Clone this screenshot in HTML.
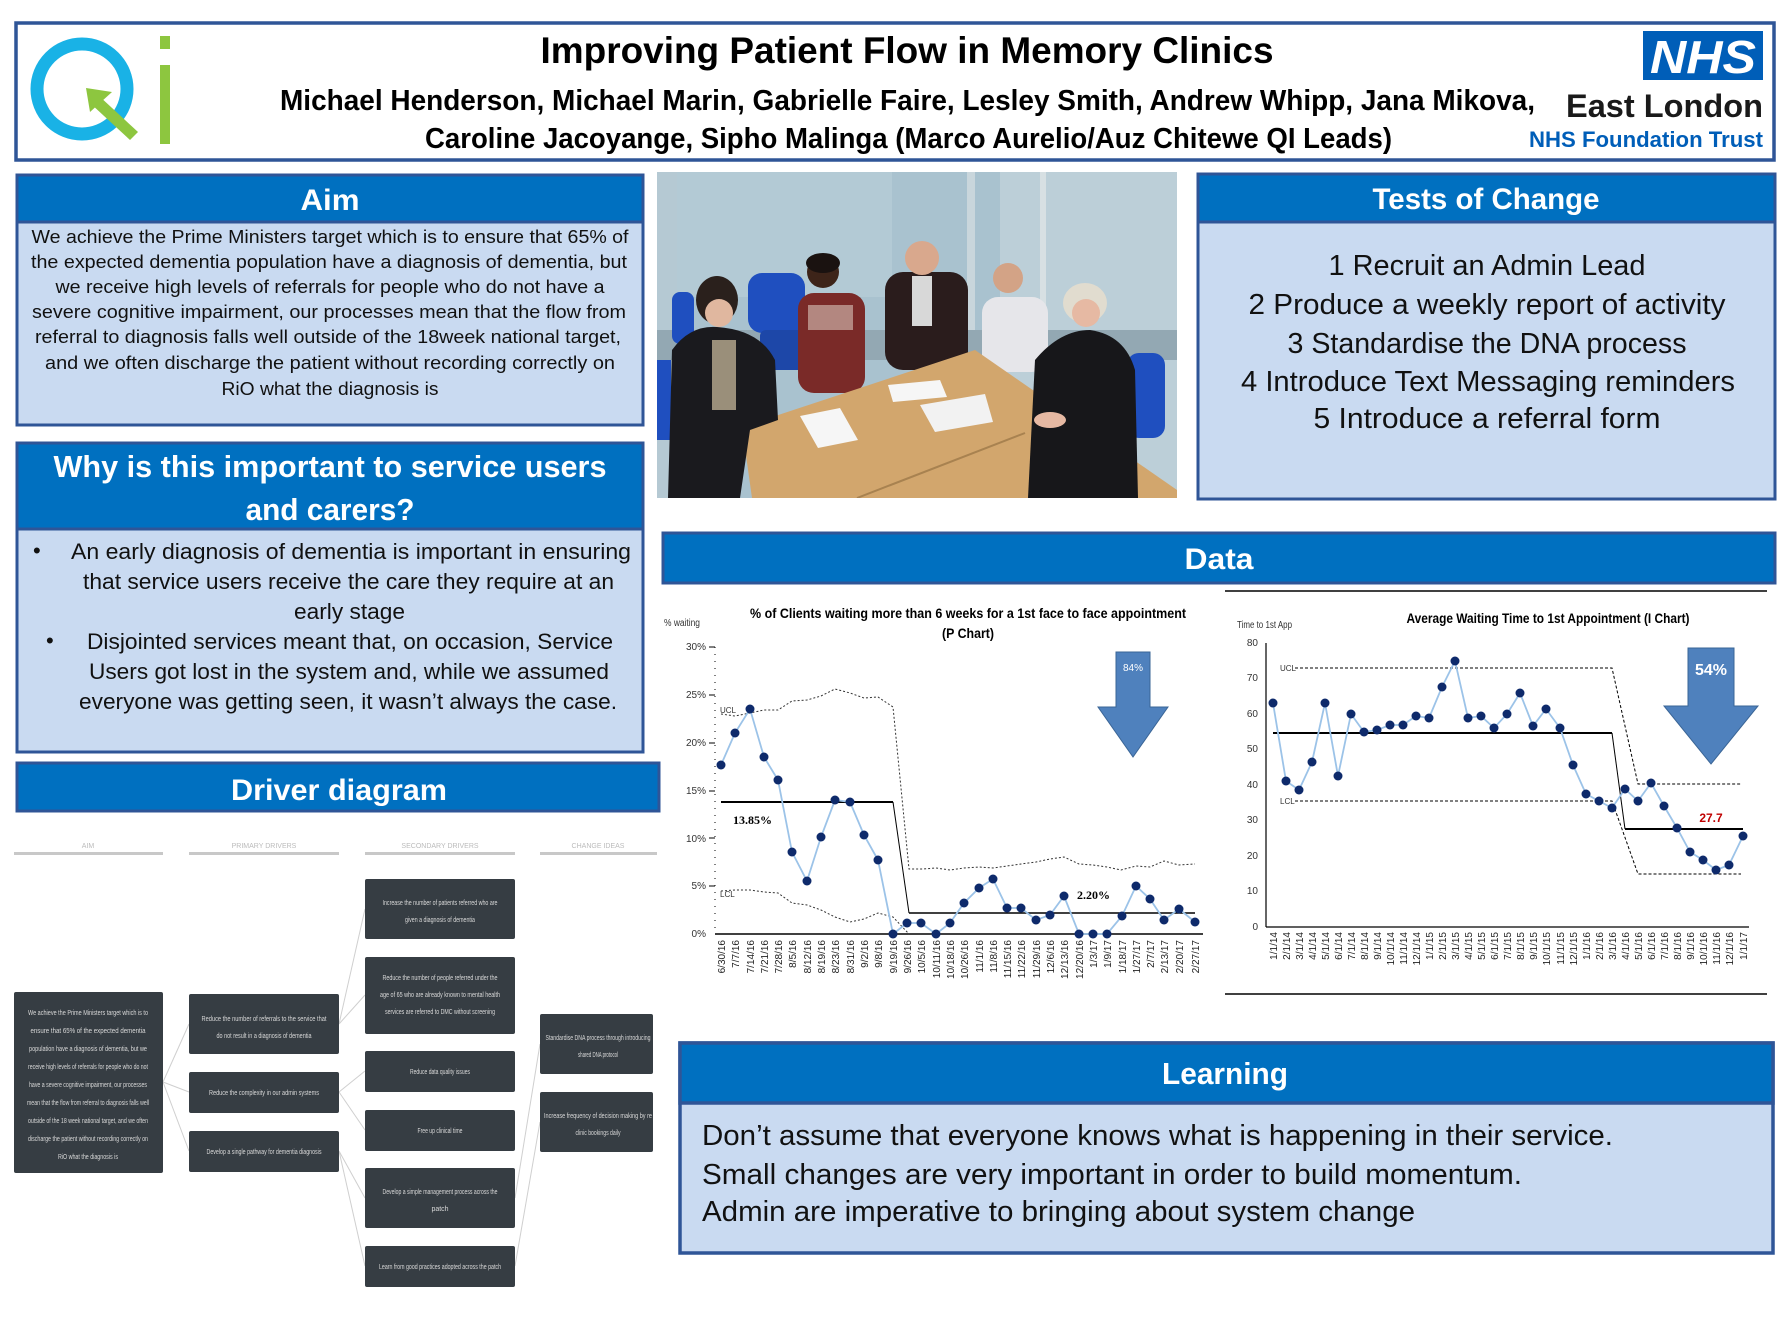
<!DOCTYPE html>
<html><head><meta charset="utf-8"><style>
html,body{margin:0;padding:0;background:#fff;}
svg{display:block;font-family:"Liberation Sans",sans-serif;}
</style></head><body>
<svg width="1792" height="1344" viewBox="0 0 1792 1344" xmlns="http://www.w3.org/2000/svg">
<rect width="1792" height="1344" fill="#fff"/>

<!-- HEADER -->
<rect x="16" y="23" width="1758" height="137" fill="#fff" stroke="#2f5597" stroke-width="3.5"/>
<!-- QI logo -->
<circle cx="82" cy="89" r="45" fill="none" stroke="#19b2e6" stroke-width="13"/>
<polygon points="98,95 138,132 130,140 90,103" fill="#8dc63f"/>
<polygon points="86,88 112,92 90,112" fill="#8dc63f"/>
<rect x="160" y="65" width="10" height="79" fill="#8dc63f"/>
<rect x="160" y="36" width="10" height="13" fill="#8dc63f"/>
<text x="907" y="63" font-size="37" font-weight="bold" text-anchor="middle" textLength="733" lengthAdjust="spacingAndGlyphs" fill="#000">Improving Patient Flow in Memory Clinics</text>
<text x="280" y="110" font-size="29" font-weight="bold" textLength="1255" lengthAdjust="spacingAndGlyphs" fill="#000">Michael Henderson, Michael Marin, Gabrielle Faire, Lesley Smith, Andrew Whipp, Jana Mikova,</text>
<text x="425" y="148" font-size="29" font-weight="bold" textLength="967" lengthAdjust="spacingAndGlyphs" fill="#000">Caroline Jacoyange, Sipho Malinga (Marco Aurelio/Auz Chitewe QI Leads)</text>
<rect x="1643" y="31" width="120" height="49" fill="#005eb8"/>
<text x="1703" y="73" font-size="46" font-weight="bold" font-style="italic" text-anchor="middle" textLength="106" lengthAdjust="spacingAndGlyphs" fill="#fff">NHS</text>
<text x="1566" y="117" font-size="32" font-weight="bold" textLength="197" lengthAdjust="spacingAndGlyphs" fill="#1a1a1a">East London</text>
<text x="1529" y="147" font-size="22" font-weight="bold" textLength="234" lengthAdjust="spacingAndGlyphs" fill="#005eb8">NHS Foundation Trust</text>

<!-- AIM -->
<rect x="17" y="175" width="626" height="250" fill="#c9daf1" stroke="#2f5597" stroke-width="3"/>
<rect x="17" y="175" width="626" height="47" fill="#0070c0" stroke="#2f5597" stroke-width="3"/>
<text x="330" y="210" font-size="30" font-weight="bold" text-anchor="middle" textLength="59" lengthAdjust="spacingAndGlyphs" fill="#fff">Aim</text>
<g font-size="18" fill="#111" text-anchor="middle">
<text x="330" y="243" textLength="597" lengthAdjust="spacingAndGlyphs">We achieve the Prime Ministers target which is to ensure that 65% of</text>
<text x="329" y="268" textLength="596" lengthAdjust="spacingAndGlyphs">the expected dementia population have a diagnosis of dementia, but</text>
<text x="330" y="293" textLength="549" lengthAdjust="spacingAndGlyphs">we receive high levels of referrals for people who do not have a</text>
<text x="329" y="318" textLength="594" lengthAdjust="spacingAndGlyphs">severe cognitive impairment, our processes mean that the flow from</text>
<text x="328" y="343" textLength="586" lengthAdjust="spacingAndGlyphs">referral to diagnosis falls well outside of the 18week national target,</text>
<text x="330" y="369" textLength="570" lengthAdjust="spacingAndGlyphs">and we often discharge the patient without recording correctly on</text>
<text x="330" y="395" textLength="217" lengthAdjust="spacingAndGlyphs">RiO what the diagnosis is</text>
</g>

<!-- WHY -->
<rect x="17" y="443" width="626" height="309" fill="#c9daf1" stroke="#2f5597" stroke-width="3"/>
<rect x="17" y="443" width="626" height="86" fill="#0070c0" stroke="#2f5597" stroke-width="3"/>
<text x="330" y="477" font-size="31" font-weight="bold" text-anchor="middle" textLength="553" lengthAdjust="spacingAndGlyphs" fill="#fff">Why is this important to service users</text>
<text x="330" y="520" font-size="31" font-weight="bold" text-anchor="middle" textLength="169" lengthAdjust="spacingAndGlyphs" fill="#fff">and carers?</text>
<g font-size="22" fill="#111">
<text x="33" y="558">•</text>
<text x="71" y="559" textLength="560" lengthAdjust="spacingAndGlyphs">An early diagnosis of dementia is important in ensuring</text>
<text x="83" y="589" textLength="531" lengthAdjust="spacingAndGlyphs">that service users receive the care they require at an</text>
<text x="294" y="619" textLength="111" lengthAdjust="spacingAndGlyphs">early stage</text>
<text x="46" y="648">•</text>
<text x="87" y="649" textLength="526" lengthAdjust="spacingAndGlyphs">Disjointed services meant that, on occasion, Service</text>
<text x="89" y="679" textLength="520" lengthAdjust="spacingAndGlyphs">Users got lost in the system and, while we assumed</text>
<text x="79" y="709" textLength="538" lengthAdjust="spacingAndGlyphs">everyone was getting seen, it wasn’t always the case.</text>
</g>

<!-- PHOTO -->
<svg x="657" y="172" width="520" height="326" viewBox="657 172 520 326">
<rect x="657" y="172" width="520" height="326" fill="#a9c2cf"/>
<rect x="657" y="172" width="20" height="326" fill="#b5c9d3"/>
<rect x="1000" y="172" width="177" height="326" fill="#bccfd8"/>
<rect x="967" y="172" width="8" height="200" fill="#c9d6dc"/>
<rect x="1040" y="172" width="6" height="150" fill="#d7e0e3"/>
<rect x="677" y="172" width="215" height="125" fill="#b3cad5"/>
<rect x="657" y="330" width="520" height="30" fill="#93a8b3"/>
<!-- chairs -->
<rect x="672" y="292" width="22" height="52" rx="8" fill="#1f4fbf"/>
<rect x="748" y="273" width="57" height="60" rx="14" fill="#1f4fbf"/>
<rect x="760" y="330" width="45" height="40" rx="6" fill="#1d47a8"/>
<rect x="1127" y="353" width="38" height="85" rx="12" fill="#1f4fbf"/>
<rect x="657" y="360" width="14" height="80" fill="#1f4fbf"/>
<!-- person 3 -->
<rect x="885" y="272" width="83" height="98" rx="18" fill="#2a1c1c"/>
<rect x="912" y="276" width="20" height="50" fill="#d8d8d8"/>
<circle cx="922" cy="258" r="17" fill="#d9a88d"/>
<!-- person 4 -->
<rect x="982" y="297" width="66" height="75" rx="16" fill="#e6e6ea"/>
<circle cx="1008" cy="278" r="15" fill="#d3a386"/>
<!-- person 2 -->
<rect x="798" y="293" width="67" height="100" rx="16" fill="#7a2a28"/>
<rect x="808" y="305" width="45" height="25" fill="#d9c7bb" opacity="0.6"/>
<circle cx="823" cy="272" r="16" fill="#3d2419"/>
<ellipse cx="823" cy="263" rx="17" ry="10" fill="#1a1210"/>
<!-- table -->
<polygon points="742,427 975,350 1177,490 1177,498 752,498" fill="#d2a66d"/>
<line x1="857" y1="498" x2="1025" y2="433" stroke="#a88250" stroke-width="2"/>
<polygon points="800,416 840,408 858,440 818,448" fill="#f6f6f6"/>
<polygon points="888,385 940,380 947,397 893,402" fill="#f6f6f6"/>
<polygon points="920,405 985,394 993,422 935,432" fill="#f2f2f2"/>
<polygon points="1043,470 1080,455 1110,495 1065,498" fill="#f6f6f6"/>
<!-- person 1 -->
<path d="M668,498 L672,350 Q690,325 717,327 Q760,330 775,360 L778,420 L750,430 L740,498 Z" fill="#1a1a1e"/>
<rect x="712" y="340" width="24" height="70" fill="#9a8f7a"/>
<ellipse cx="717" cy="300" rx="21" ry="24" fill="#2a201c"/>
<circle cx="719" cy="313" r="14" fill="#e0b79f"/>
<!-- person 5 -->
<path d="M1028,498 L1035,360 Q1060,330 1090,330 Q1125,335 1135,370 L1138,498 Z" fill="#17171a"/>
<ellipse cx="1085" cy="303" rx="22" ry="20" fill="#e1dccf"/>
<circle cx="1086" cy="313" r="14" fill="#e6b9a3"/>
<ellipse cx="1050" cy="420" rx="16" ry="8" fill="#e6b9a3"/>
</svg>

<!-- TESTS OF CHANGE -->
<rect x="1198" y="174" width="577" height="325" fill="#c9daf1" stroke="#2f5597" stroke-width="3"/>
<rect x="1198" y="174" width="577" height="48" fill="#0070c0" stroke="#2f5597" stroke-width="3"/>
<text x="1486" y="209" font-size="30" font-weight="bold" text-anchor="middle" textLength="227" lengthAdjust="spacingAndGlyphs" fill="#fff">Tests of Change</text>
<g font-size="29" fill="#111" text-anchor="middle">
<text x="1487" y="275" textLength="317" lengthAdjust="spacingAndGlyphs">1 Recruit an Admin Lead</text>
<text x="1487" y="314" textLength="477" lengthAdjust="spacingAndGlyphs">2 Produce a weekly report of activity</text>
<text x="1487" y="353" textLength="399" lengthAdjust="spacingAndGlyphs">3 Standardise the DNA process</text>
<text x="1488" y="391" textLength="494" lengthAdjust="spacingAndGlyphs">4 Introduce Text Messaging reminders</text>
<text x="1487" y="428" textLength="347" lengthAdjust="spacingAndGlyphs">5 Introduce a referral form</text>
</g>

<!-- DATA BAR -->
<rect x="663" y="533" width="1112" height="50" fill="#0070c0" stroke="#2f5597" stroke-width="3"/>
<text x="1219" y="569" font-size="30" font-weight="bold" text-anchor="middle" textLength="69" lengthAdjust="spacingAndGlyphs" fill="#fff">Data</text>

<!-- CHART 1 -->
<g>
<text x="664" y="626" font-size="10" fill="#333" textLength="36" lengthAdjust="spacingAndGlyphs">% waiting</text>
<text x="968" y="618" font-size="14" font-weight="bold" text-anchor="middle" textLength="436" lengthAdjust="spacingAndGlyphs">% of Clients waiting more than 6 weeks for a 1st face to face appointment</text>
<text x="968" y="638" font-size="14" font-weight="bold" text-anchor="middle" textLength="52" lengthAdjust="spacingAndGlyphs">(P Chart)</text>
<line x1="715" y1="647" x2="715" y2="934" stroke="#000" stroke-width="1" stroke-dasharray="1,6"/>
<line x1="715" y1="934" x2="1203" y2="934" stroke="#000" stroke-width="1.5"/>
<g font-size="10" fill="#333" text-anchor="end">
<text x="706" y="650">30%</text><text x="706" y="698">25%</text><text x="706" y="746">20%</text>
<text x="706" y="794">15%</text><text x="706" y="842">10%</text><text x="706" y="889">5%</text><text x="706" y="937">0%</text>
</g>
<g stroke="#000"><line x1="709" y1="647" x2="715" y2="647"/><line x1="709" y1="695" x2="715" y2="695"/><line x1="709" y1="743" x2="715" y2="743"/><line x1="709" y1="791" x2="715" y2="791"/><line x1="709" y1="838" x2="715" y2="838"/><line x1="709" y1="886" x2="715" y2="886"/></g>
<text x="720" y="713" font-size="8" fill="#333">UCL</text>
<text x="720" y="897" font-size="8" fill="#333">LCL</text>
<polyline fill="none" stroke="#333" stroke-width="1" stroke-dasharray="2,2" points="721,714 735,716 750,713 764,710 778,710 792,701 807,700 821,696 835,689 850,693 864,698 878,697 893,707 909,869 923,869 936,868 950,870 964,868 979,867 993,868 1007,866 1021,864 1036,862 1050,859 1064,857 1079,864 1093,865 1107,867 1121,870 1136,866 1150,867 1164,861 1179,865 1195,864"/>
<polyline fill="none" stroke="#333" stroke-width="1" stroke-dasharray="2,2" points="721,891 735,890 750,890 764,892 778,893 792,903 807,905 821,910 835,917 850,922 864,919 878,913 893,917 909,934"/>
<line x1="721" y1="802" x2="893" y2="802" stroke="#000" stroke-width="2"/>
<line x1="893" y1="802" x2="909" y2="913" stroke="#000" stroke-width="1"/>
<line x1="909" y1="913" x2="1195" y2="913" stroke="#000" stroke-width="1.5"/>
<text x="733" y="824" font-size="12" font-weight="bold" font-family="Liberation Serif,serif">13.85%</text>
<text x="1077" y="899" font-size="12" font-weight="bold" font-family="Liberation Serif,serif">2.20%</text>
<polyline id="c1" fill="none" stroke="#9cc3e8" stroke-width="1.8" points="721,765 735,733 750,709 764,757 778,780 792,852 807,881 821,837 835,800 850,802 864,835 878,860 893,934 907,923 921,923 936,934 950,923 964,903 979,888 993,879 1007,908 1021,908 1036,920 1050,915 1064,896 1079,934 1093,934 1107,934 1122,916 1136,886 1150,899 1164,920 1179,909 1195,922"/>
<g fill="#0e2a6b">
<circle cx="721" cy="765" r="4.5"/><circle cx="735" cy="733" r="4.5"/><circle cx="750" cy="709" r="4.5"/><circle cx="764" cy="757" r="4.5"/><circle cx="778" cy="780" r="4.5"/><circle cx="792" cy="852" r="4.5"/><circle cx="807" cy="881" r="4.5"/><circle cx="821" cy="837" r="4.5"/><circle cx="835" cy="800" r="4.5"/><circle cx="850" cy="802" r="4.5"/><circle cx="864" cy="835" r="4.5"/><circle cx="878" cy="860" r="4.5"/><circle cx="893" cy="934" r="4.5"/><circle cx="907" cy="923" r="4.5"/><circle cx="921" cy="923" r="4.5"/><circle cx="936" cy="934" r="4.5"/><circle cx="950" cy="923" r="4.5"/><circle cx="964" cy="903" r="4.5"/><circle cx="979" cy="888" r="4.5"/><circle cx="993" cy="879" r="4.5"/><circle cx="1007" cy="908" r="4.5"/><circle cx="1021" cy="908" r="4.5"/><circle cx="1036" cy="920" r="4.5"/><circle cx="1050" cy="915" r="4.5"/><circle cx="1064" cy="896" r="4.5"/><circle cx="1079" cy="934" r="4.5"/><circle cx="1093" cy="934" r="4.5"/><circle cx="1107" cy="934" r="4.5"/><circle cx="1122" cy="916" r="4.5"/><circle cx="1136" cy="886" r="4.5"/><circle cx="1150" cy="899" r="4.5"/><circle cx="1164" cy="920" r="4.5"/><circle cx="1179" cy="909" r="4.5"/><circle cx="1195" cy="922" r="4.5"/>
</g>
<g font-size="10" fill="#222" text-anchor="end">
<text transform="translate(725,940) rotate(-90)">6/30/16</text><text transform="translate(739,940) rotate(-90)">7/7/16</text><text transform="translate(754,940) rotate(-90)">7/14/16</text><text transform="translate(768,940) rotate(-90)">7/21/16</text><text transform="translate(782,940) rotate(-90)">7/28/16</text><text transform="translate(796,940) rotate(-90)">8/5/16</text><text transform="translate(811,940) rotate(-90)">8/12/16</text><text transform="translate(825,940) rotate(-90)">8/19/16</text><text transform="translate(839,940) rotate(-90)">8/23/16</text><text transform="translate(854,940) rotate(-90)">8/31/16</text><text transform="translate(868,940) rotate(-90)">9/2/16</text><text transform="translate(882,940) rotate(-90)">9/8/16</text><text transform="translate(897,940) rotate(-90)">9/19/16</text><text transform="translate(911,940) rotate(-90)">9/26/16</text><text transform="translate(925,940) rotate(-90)">10/5/16</text><text transform="translate(940,940) rotate(-90)">10/11/16</text><text transform="translate(954,940) rotate(-90)">10/18/16</text><text transform="translate(968,940) rotate(-90)">10/26/16</text><text transform="translate(983,940) rotate(-90)">11/1/16</text><text transform="translate(997,940) rotate(-90)">11/8/16</text><text transform="translate(1011,940) rotate(-90)">11/15/16</text><text transform="translate(1025,940) rotate(-90)">11/22/16</text><text transform="translate(1040,940) rotate(-90)">11/29/16</text><text transform="translate(1054,940) rotate(-90)">12/6/16</text><text transform="translate(1068,940) rotate(-90)">12/13/16</text><text transform="translate(1083,940) rotate(-90)">12/20/16</text><text transform="translate(1097,940) rotate(-90)">1/3/17</text><text transform="translate(1111,940) rotate(-90)">1/9/17</text><text transform="translate(1126,940) rotate(-90)">1/18/17</text><text transform="translate(1140,940) rotate(-90)">1/27/17</text><text transform="translate(1154,940) rotate(-90)">2/7/17</text><text transform="translate(1168,940) rotate(-90)">2/13/17</text><text transform="translate(1183,940) rotate(-90)">2/20/17</text><text transform="translate(1199,940) rotate(-90)">2/27/17</text>
</g>
<polygon points="1116,652 1150,652 1150,707 1168,707 1133,757 1098,707 1116,707" fill="#4f81bd" stroke="#3a6596" stroke-width="1"/>
<text x="1133" y="671" font-size="10" fill="#fff" text-anchor="middle">84%</text>
</g>

<!-- CHART 2 -->
<g>
<line x1="1225" y1="591" x2="1767" y2="591" stroke="#000" stroke-width="1.5"/>
<line x1="1225" y1="994" x2="1767" y2="994" stroke="#000" stroke-width="1.5"/>
<text x="1237" y="628" font-size="10" fill="#333" textLength="55" lengthAdjust="spacingAndGlyphs">Time to 1st App</text>
<text x="1548" y="623" font-size="14" font-weight="bold" text-anchor="middle" textLength="283" lengthAdjust="spacingAndGlyphs">Average Waiting Time to 1st Appointment (I Chart)</text>
<line x1="1266" y1="643" x2="1266" y2="927" stroke="#000" stroke-width="1.2"/>
<line x1="1266" y1="927" x2="1749" y2="927" stroke="#000" stroke-width="1.2"/>
<g font-size="10" fill="#333" text-anchor="end">
<text x="1258" y="646">80</text><text x="1258" y="681">70</text><text x="1258" y="717">60</text><text x="1258" y="752">50</text><text x="1258" y="788">40</text><text x="1258" y="823">30</text><text x="1258" y="859">20</text><text x="1258" y="894">10</text><text x="1258" y="930">0</text>
</g>
<text x="1280" y="671" font-size="8" fill="#333">UCL</text>
<text x="1280" y="804" font-size="8" fill="#333">LCL</text>
<polyline fill="none" stroke="#000" stroke-width="1" stroke-dasharray="3,2" points="1295,668 1612,668 1638,784 1741,784"/>
<polyline fill="none" stroke="#000" stroke-width="1" stroke-dasharray="3,2" points="1295,801 1612,801 1638,874 1741,874"/>
<polyline fill="none" stroke="#000" stroke-width="2" points="1273,733 1612,733"/>
<line x1="1612" y1="733" x2="1625" y2="829" stroke="#000" stroke-width="1"/>
<line x1="1625" y1="829" x2="1743" y2="829" stroke="#000" stroke-width="2"/>
<text x="1711" y="822" font-size="12" fill="#c00000" text-anchor="middle" font-weight="bold">27.7</text>
<polyline fill="none" stroke="#9cc3e8" stroke-width="1.8" points="1273,703 1286,781 1299,790 1312,762 1325,703 1338,776 1351,714 1364,732 1377,730 1390,725 1403,725 1416,716 1429,718 1442,687 1455,661 1468,718 1481,716 1494,728 1507,714 1520,693 1533,726 1546,709 1560,728 1573,765 1586,794 1599,801 1612,808 1625,789 1638,801 1651,783 1664,806 1677,828 1690,852 1703,860 1716,870 1729,865 1743,836"/>
<g fill="#0e2a6b">
<circle cx="1273" cy="703" r="4.5"/><circle cx="1286" cy="781" r="4.5"/><circle cx="1299" cy="790" r="4.5"/><circle cx="1312" cy="762" r="4.5"/><circle cx="1325" cy="703" r="4.5"/><circle cx="1338" cy="776" r="4.5"/><circle cx="1351" cy="714" r="4.5"/><circle cx="1364" cy="732" r="4.5"/><circle cx="1377" cy="730" r="4.5"/><circle cx="1390" cy="725" r="4.5"/><circle cx="1403" cy="725" r="4.5"/><circle cx="1416" cy="716" r="4.5"/><circle cx="1429" cy="718" r="4.5"/><circle cx="1442" cy="687" r="4.5"/><circle cx="1455" cy="661" r="4.5"/><circle cx="1468" cy="718" r="4.5"/><circle cx="1481" cy="716" r="4.5"/><circle cx="1494" cy="728" r="4.5"/><circle cx="1507" cy="714" r="4.5"/><circle cx="1520" cy="693" r="4.5"/><circle cx="1533" cy="726" r="4.5"/><circle cx="1546" cy="709" r="4.5"/><circle cx="1560" cy="728" r="4.5"/><circle cx="1573" cy="765" r="4.5"/><circle cx="1586" cy="794" r="4.5"/><circle cx="1599" cy="801" r="4.5"/><circle cx="1612" cy="808" r="4.5"/><circle cx="1625" cy="789" r="4.5"/><circle cx="1638" cy="801" r="4.5"/><circle cx="1651" cy="783" r="4.5"/><circle cx="1664" cy="806" r="4.5"/><circle cx="1677" cy="828" r="4.5"/><circle cx="1690" cy="852" r="4.5"/><circle cx="1703" cy="860" r="4.5"/><circle cx="1716" cy="870" r="4.5"/><circle cx="1729" cy="865" r="4.5"/><circle cx="1743" cy="836" r="4.5"/>
</g>
<g font-size="10" fill="#222" text-anchor="end">
<text transform="translate(1277,932) rotate(-90)">1/1/14</text><text transform="translate(1290,932) rotate(-90)">2/1/14</text><text transform="translate(1303,932) rotate(-90)">3/1/14</text><text transform="translate(1316,932) rotate(-90)">4/1/14</text><text transform="translate(1329,932) rotate(-90)">5/1/14</text><text transform="translate(1342,932) rotate(-90)">6/1/14</text><text transform="translate(1355,932) rotate(-90)">7/1/14</text><text transform="translate(1368,932) rotate(-90)">8/1/14</text><text transform="translate(1381,932) rotate(-90)">9/1/14</text><text transform="translate(1394,932) rotate(-90)">10/1/14</text><text transform="translate(1407,932) rotate(-90)">11/1/14</text><text transform="translate(1420,932) rotate(-90)">12/1/14</text><text transform="translate(1433,932) rotate(-90)">1/1/15</text><text transform="translate(1446,932) rotate(-90)">2/1/15</text><text transform="translate(1459,932) rotate(-90)">3/1/15</text><text transform="translate(1472,932) rotate(-90)">4/1/15</text><text transform="translate(1485,932) rotate(-90)">5/1/15</text><text transform="translate(1498,932) rotate(-90)">6/1/15</text><text transform="translate(1511,932) rotate(-90)">7/1/15</text><text transform="translate(1524,932) rotate(-90)">8/1/15</text><text transform="translate(1537,932) rotate(-90)">9/1/15</text><text transform="translate(1550,932) rotate(-90)">10/1/15</text><text transform="translate(1564,932) rotate(-90)">11/1/15</text><text transform="translate(1577,932) rotate(-90)">12/1/15</text><text transform="translate(1590,932) rotate(-90)">1/1/16</text><text transform="translate(1603,932) rotate(-90)">2/1/16</text><text transform="translate(1616,932) rotate(-90)">3/1/16</text><text transform="translate(1629,932) rotate(-90)">4/1/16</text><text transform="translate(1642,932) rotate(-90)">5/1/16</text><text transform="translate(1655,932) rotate(-90)">6/1/16</text><text transform="translate(1668,932) rotate(-90)">7/1/16</text><text transform="translate(1681,932) rotate(-90)">8/1/16</text><text transform="translate(1694,932) rotate(-90)">9/1/16</text><text transform="translate(1707,932) rotate(-90)">10/1/16</text><text transform="translate(1720,932) rotate(-90)">11/1/16</text><text transform="translate(1733,932) rotate(-90)">12/1/16</text><text transform="translate(1747,932) rotate(-90)">1/1/17</text>
</g>
<polygon points="1688,648 1734,648 1734,706 1758,706 1711,764 1664,706 1688,706" fill="#4f81bd" stroke="#3a6596" stroke-width="1"/>
<text x="1711" y="675" font-size="16" font-weight="bold" fill="#fff" text-anchor="middle">54%</text>
</g>

<!-- DRIVER DIAGRAM -->
<rect x="17" y="763" width="642" height="48" fill="#0070c0" stroke="#2f5597" stroke-width="3"/>
<text x="339" y="800" font-size="30" font-weight="bold" text-anchor="middle" textLength="216" lengthAdjust="spacingAndGlyphs" fill="#fff">Driver diagram</text>
<g fill="#c8c8c8">
<rect x="14" y="852" width="149" height="3"/><rect x="189" y="852" width="150" height="3"/><rect x="365" y="852" width="150" height="3"/><rect x="540" y="852" width="117" height="3"/>
</g>
<g font-size="7" fill="#bbb" text-anchor="middle">
<text x="88" y="848">AIM</text><text x="264" y="848">PRIMARY DRIVERS</text><text x="440" y="848">SECONDARY DRIVERS</text><text x="598" y="848">CHANGE IDEAS</text>
</g>
<g stroke="#cfcfcf" stroke-width="1" fill="none">
<line x1="163" y1="1082" x2="189" y2="1024"/><line x1="163" y1="1082" x2="189" y2="1092"/><line x1="163" y1="1082" x2="189" y2="1151"/>
<line x1="339" y1="1024" x2="365" y2="909"/><line x1="339" y1="1024" x2="365" y2="995"/>
<line x1="339" y1="1092" x2="365" y2="1071"/><line x1="339" y1="1092" x2="365" y2="1130"/>
<line x1="339" y1="1151" x2="365" y2="1198"/><line x1="339" y1="1151" x2="365" y2="1266"/>
<line x1="515" y1="1198" x2="540" y2="1044"/><line x1="515" y1="1266" x2="540" y2="1122"/>
</g>
<g fill="#363d43">
<rect x="14" y="992" width="149" height="181" rx="2"/>
<rect x="189" y="994" width="150" height="60" rx="2"/><rect x="189" y="1072" width="150" height="41" rx="2"/><rect x="189" y="1131" width="150" height="41" rx="2"/>
<rect x="365" y="879" width="150" height="60" rx="2"/><rect x="365" y="957" width="150" height="77" rx="2"/><rect x="365" y="1051" width="150" height="41" rx="2"/><rect x="365" y="1110" width="150" height="41" rx="2"/><rect x="365" y="1168" width="150" height="60" rx="2"/><rect x="365" y="1246" width="150" height="41" rx="2"/>
<rect x="540" y="1014" width="113" height="60" rx="2"/><rect x="540" y="1092" width="113" height="60" rx="2"/>
</g>
<g font-size="7" fill="#d8d8d8" text-anchor="middle">
<text x="88" y="1015" textLength="120" lengthAdjust="spacingAndGlyphs">We achieve the Prime Ministers target which is to</text>
<text x="88" y="1033" textLength="115" lengthAdjust="spacingAndGlyphs">ensure that 65% of the expected dementia</text>
<text x="88" y="1051" textLength="118" lengthAdjust="spacingAndGlyphs">population have a diagnosis of dementia, but we</text>
<text x="88" y="1069" textLength="120" lengthAdjust="spacingAndGlyphs">receive high levels of referrals for people who do not</text>
<text x="88" y="1087" textLength="118" lengthAdjust="spacingAndGlyphs">have a severe cognitive impairment, our processes</text>
<text x="88" y="1105" textLength="122" lengthAdjust="spacingAndGlyphs">mean that the flow from referral to diagnosis falls well</text>
<text x="88" y="1123" textLength="120" lengthAdjust="spacingAndGlyphs">outside of the 18 week national target, and we often</text>
<text x="88" y="1141" textLength="120" lengthAdjust="spacingAndGlyphs">discharge the patient without recording correctly on</text>
<text x="88" y="1159" textLength="60" lengthAdjust="spacingAndGlyphs">RiO what the diagnosis is</text>
<text x="264" y="1021" textLength="125" lengthAdjust="spacingAndGlyphs">Reduce the number of referrals to the service that</text>
<text x="264" y="1038" textLength="95" lengthAdjust="spacingAndGlyphs">do not result in a diagnosis of dementia</text>
<text x="264" y="1095" textLength="110" lengthAdjust="spacingAndGlyphs">Reduce the complexity in our admin systems</text>
<text x="264" y="1154" textLength="115" lengthAdjust="spacingAndGlyphs">Develop a single pathway for dementia diagnosis</text>
<text x="440" y="905" textLength="115" lengthAdjust="spacingAndGlyphs">Increase the number of patients referred who are</text>
<text x="440" y="922" textLength="70" lengthAdjust="spacingAndGlyphs">given a diagnosis of dementia</text>
<text x="440" y="980" textLength="115" lengthAdjust="spacingAndGlyphs">Reduce the number of people referred under the</text>
<text x="440" y="997" textLength="120" lengthAdjust="spacingAndGlyphs">age of 65 who are already known to mental health</text>
<text x="440" y="1014" textLength="110" lengthAdjust="spacingAndGlyphs">services are referred to DMC without screening</text>
<text x="440" y="1074" textLength="60" lengthAdjust="spacingAndGlyphs">Reduce data quality issues</text>
<text x="440" y="1133" textLength="45" lengthAdjust="spacingAndGlyphs">Free up clinical time</text>
<text x="440" y="1194" textLength="115" lengthAdjust="spacingAndGlyphs">Develop a simple management process across the</text>
<text x="440" y="1211">patch</text>
<text x="440" y="1269" textLength="122" lengthAdjust="spacingAndGlyphs">Learn from good practices adopted across the patch</text>
<text x="598" y="1040" textLength="105" lengthAdjust="spacingAndGlyphs">Standardise DNA process through introducing</text>
<text x="598" y="1057" textLength="40" lengthAdjust="spacingAndGlyphs">shared DNA protocol</text>
<text x="598" y="1118" textLength="108" lengthAdjust="spacingAndGlyphs">Increase frequency of decision making by re</text>
<text x="598" y="1135" textLength="45" lengthAdjust="spacingAndGlyphs">clinic bookings daily</text>
</g>

<!-- LEARNING -->
<rect x="680" y="1043" width="1093" height="210" fill="#c9daf1" stroke="#2f5597" stroke-width="3.5"/>
<rect x="680" y="1043" width="1093" height="60" fill="#0070c0" stroke="#2f5597" stroke-width="3.5"/>
<text x="1225" y="1084" font-size="31" font-weight="bold" text-anchor="middle" textLength="126" lengthAdjust="spacingAndGlyphs" fill="#fff">Learning</text>
<g font-size="29" fill="#111">
<text x="702" y="1145" textLength="911" lengthAdjust="spacingAndGlyphs">Don’t assume that everyone knows what is happening in their service.</text>
<text x="702" y="1184" textLength="820" lengthAdjust="spacingAndGlyphs">Small changes are very important in order to build momentum.</text>
<text x="702" y="1221" textLength="713" lengthAdjust="spacingAndGlyphs">Admin are imperative to bringing about system change</text>
</g>
</svg>
</body></html>
